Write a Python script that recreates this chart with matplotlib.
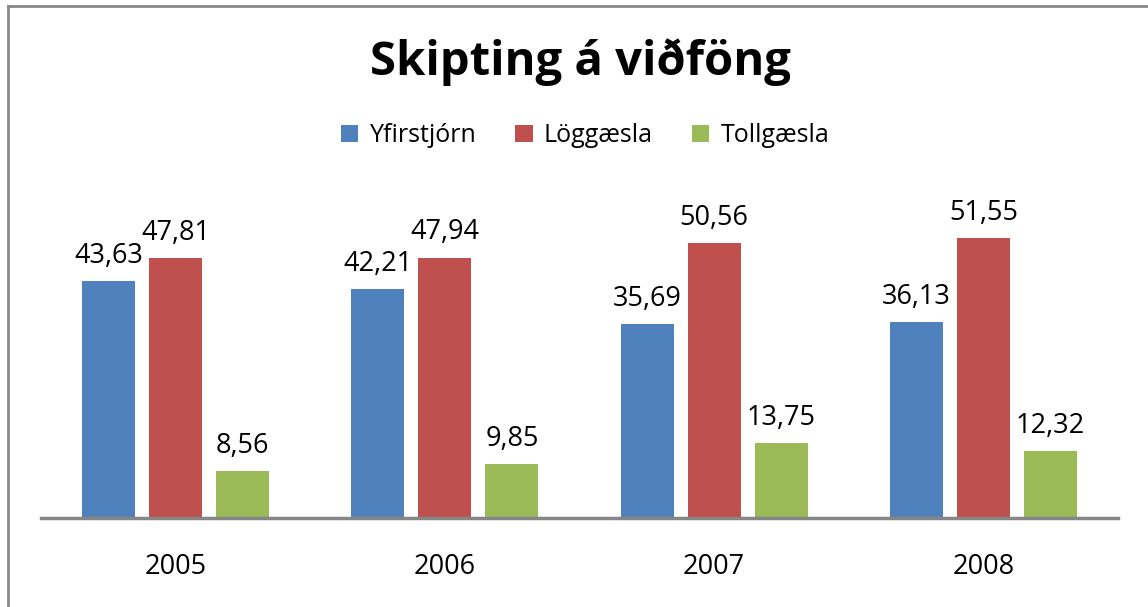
import numpy as np
import matplotlib.pyplot as plt
from matplotlib.lines import Line2D

plt.rcParams['font.family'] = ['Open Sans', 'DejaVu Sans']

years = ['2005', '2006', '2007', '2008']
series_names = ['Yfirstjórn', 'Löggæsla', 'Tollgæsla']
yfirstjorn = [43.63, 42.21, 35.69, 36.13]
loggaesla = [47.81, 47.94, 50.56, 51.55]
tollgaesla = [8.56, 9.85, 13.75, 12.32]
colors = ['#4F81BD', '#C0504D', '#9BBB59']

fig = plt.figure(figsize=(11.48, 6.07), dpi=100)
ax = fig.add_axes([41/1148, 89/607, 1077/1148, 326/607])

x = np.arange(len(years))
w = 0.197
step = 0.249
for i, (vals, col, name) in enumerate(zip([yfirstjorn, loggaesla, tollgaesla], colors, series_names)):
    bars = ax.bar(x + (i - 1) * step, vals, w, color=col, label=name)
    for b, v in zip(bars, vals):
        ax.annotate(f'{v:.2f}'.replace('.', ','), (b.get_x() + b.get_width() / 2, v),
                    xytext=(0, 8), textcoords='offset points', ha='center', va='bottom',
                    fontsize=19.5)

ax.set_xlim(-0.5, 3.5)
ax.set_ylim(0, 60)
ax.set_yticks([])
for s in ['top', 'right', 'left']:
    ax.spines[s].set_visible(False)
ax.spines['bottom'].set_color('#868686')
ax.spines['bottom'].set_linewidth(2.5)
ax.set_xticks(x)
ax.set_xticklabels(years, fontsize=19.5)
ax.tick_params(axis='x', length=0, pad=25)

fig.text(580/1148, 1 - 62/607, 'Skipting á viðföng', ha='center', va='center',
         fontsize=34, fontweight='bold')
ax.legend(loc='center', bbox_to_anchor=(585/1148, 1 - 136/607), bbox_transform=fig.transFigure,
          ncol=3, frameon=False, fontsize=18, handlelength=0.7, handleheight=0.7,
          handletextpad=0.45, columnspacing=1.55)

# chart border (only left and top visible in the crop)
fig.add_artist(Line2D([8/1148, 8/1148], [0, 1 - 6/607], transform=fig.transFigure,
                      color='#888888', lw=2))
fig.add_artist(Line2D([8/1148, 1], [1 - 6/607, 1 - 6/607], transform=fig.transFigure,
                      color='#888888', lw=2))

fig.savefig('out.png', dpi=100)
